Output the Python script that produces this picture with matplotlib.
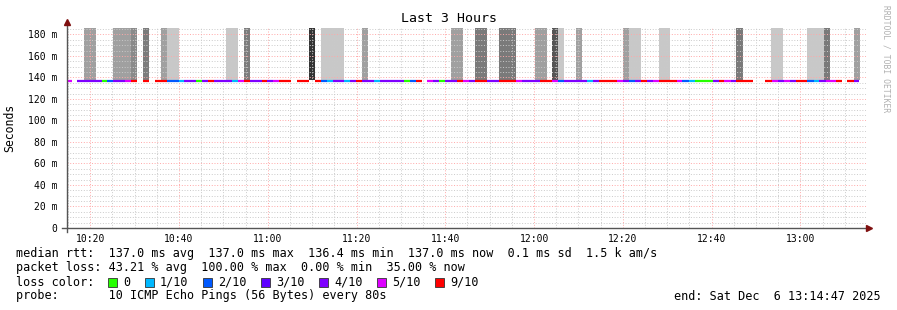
"""
Smokeping style latency graph (last 3 hours): median rtt coloured by loss,
smoke bars in grey, rrdtool-like legend block underneath.
"""

import matplotlib
matplotlib.use("Agg")
import matplotlib.pyplot as plt
import matplotlib.ticker as ticker
from matplotlib.patches import Rectangle

MONO = "DejaVu Sans Mono"

# time axis: minutes after 10:00
T_START = 14.78          # 10:14:47
T_END = 194.78           # 13:14:47

# median rtt segments (edges in minutes, loss = lost pings of 10, None = no data)
edges = [
    14.8, 15.9, 17.1, 22.6, 23.7, 25.1, 27.9, 29.2, 30.6, 31.9,
    33.3, 34.5, 37.4, 40.0, 41.1, 43.9, 45.1, 46.6, 47.9, 52.0,
    53.3, 54.6, 56.0, 58.7, 59.9, 61.2, 62.6, 65.3, 66.5, 69.3,
    70.7, 72.0, 73.4, 74.7, 77.2, 78.6, 79.9, 81.3, 84.0, 85.3,
    90.7, 92.1, 93.4, 94.8, 95.8, 97.2, 98.5, 99.9, 102.6, 104.0,
    105.3, 106.7, 109.4, 112.1, 116.0, 117.3, 121.4, 124.1, 125.4, 126.8,
    131.9, 133.2, 134.6, 138.7, 140.1, 141.4, 142.8, 144.1, 145.5, 146.8,
    148.2, 152.1, 153.4, 154.8, 156.2, 160.2, 161.6, 162.9, 164.3, 165.6,
    169.4, 172.1, 173.6, 174.9, 176.2, 177.6, 178.9, 181.6, 183.0, 184.3,
    185.7, 188.1, 189.4, 190.6, 192.0, 193.3,
]
loss = [
    5, None, 4, 0, 2, 4, 5, 9, None, 9,
    None, 9, 2, 1, 4, 0, 4, 9, 4, 1,
    5, 9, 4, 9, 4, 5, 9, None, 9, None,
    9, 2, 1, 4, 1, 4, 9, 4, 1, 4,
    0, 2, 9, None, 5, 4, 0, 4, 9, 5,
    4, 9, 4, 9, 5, 4, 9, 5, 2, 4,
    1, 4, 9, 5, 4, 2, 4, 9, 4, 5,
    9, 5, 2, 1, 0, 4, 9, 5, 4, 9,
    None, 9, 5, 4, 5, 4, 9, 2, 1, 4,
    5, 9, None, 9, 4,
]
median_ms = 137.0

# smoke bars (start, end in minutes, grey level)
smoke_t0 = [18.6, 25.2, 29.2, 31.9, 36.0, 37.3, 50.6, 54.7, 69.3, 72.0,
            81.3, 101.3, 106.7, 112.1, 120.2, 124.1, 125.4, 129.5, 140.1, 141.4,
            148.2, 165.6, 173.4, 181.5, 185.4, 192.1]
smoke_t1 = [21.3, 29.2, 30.6, 33.3, 37.3, 40.0, 53.3, 56.0, 70.7, 77.2,
            82.6, 104.0, 109.4, 116.0, 123.0, 125.4, 126.8, 130.8, 141.4, 144.1,
            150.7, 167.0, 176.1, 185.4, 186.7, 193.5]
smoke_shade = ["#a0a0a0", "#a0a0a0", "#8a8a8a", "#7c7c7c", "#a0a0a0", "#c8c8c8",
               "#c8c8c8", "#7c7c7c", "#333333", "#c8c8c8", "#a0a0a0", "#a0a0a0",
               "#7a7a7a", "#7a7a7a", "#a0a0a0", "#555555", "#c8c8c8", "#a0a0a0",
               "#a0a0a0", "#c8c8c8", "#c8c8c8", "#7a7a7a", "#c8c8c8", "#c8c8c8",
               "#7a7a7a", "#a0a0a0"]
smoke_bottom = 137.6
smoke_top = 186.0

LOSS_COLORS = {0: "#26ff00", 1: "#00b8ff", 2: "#0059ff", 3: "#5e00ff",
               4: "#7e00ff", 5: "#dd00ff", 9: "#ff0000"}
legend_keys = [0, 1, 2, 3, 4, 5, 9]
legend_labels = ["0", "1/10", "2/10", "3/10", "4/10", "5/10", "9/10"]

stats_line1 = ("median rtt:  137.0 ms avg  137.0 ms max  136.4 ms min  "
               "137.0 ms now  0.1 ms sd  1.5 k am/s")
stats_line2 = "packet loss: 43.21 % avg  100.00 % max  0.00 % min  35.00 % now"
probe_line = "probe:       10 ICMP Echo Pings (56 Bytes) every 80s"
end_line = "end: Sat Dec  6 13:14:47 2025"

W, H = 897, 310
fig = plt.figure(figsize=(W / 100, H / 100), dpi=100)
ax = fig.add_axes([67 / W, 1 - 228 / H, 799 / W, 200 / H])

# smoke
for t0, t1, c in zip(smoke_t0, smoke_t1, smoke_shade):
    ax.bar(t0, smoke_top - smoke_bottom, width=t1 - t0, bottom=smoke_bottom,
           align="edge", color=c, linewidth=0, zorder=1)

# median line coloured by loss
for t0, t1, l in zip(edges[:-1], edges[1:], loss):
    if l is None:
        continue
    ax.hlines(median_ms, t0, t1, colors=LOSS_COLORS[l], linewidth=1.6,
              zorder=4, capstyle="butt")

ax.set_xlim(T_START, T_END)
ax.set_ylim(0, smoke_top)

ax.xaxis.set_major_locator(ticker.MultipleLocator(20))
ax.xaxis.set_minor_locator(ticker.MultipleLocator(5))
ax.yaxis.set_major_locator(ticker.MultipleLocator(20))
ax.yaxis.set_minor_locator(ticker.MultipleLocator(5))
ax.xaxis.set_major_formatter(ticker.FuncFormatter(
    lambda v, _: f"{10 + int(round(v)) // 60}:{int(round(v)) % 60:02d}"))
ax.yaxis.set_major_formatter(ticker.FuncFormatter(
    lambda v, _: "0" if v == 0 else f"{int(round(v))} m"))

ax.set_axisbelow(False)
ax.grid(which="minor", color="#cacaca", linestyle=(0, (1, 1.8)), linewidth=0.7)
ax.grid(which="major", color="#ffa8a8", linestyle=(0, (1, 1.8)), linewidth=0.7)
for gl in ax.get_xgridlines() + ax.get_ygridlines():
    gl.set_zorder(3)

ax.tick_params(which="both", length=0)
ax.tick_params(axis="x", pad=4, labelsize=7)
ax.tick_params(axis="y", pad=7, labelsize=7)
for lab in ax.get_xticklabels() + ax.get_yticklabels():
    lab.set_family(MONO)
for s in ax.spines.values():
    s.set_visible(False)

# axis lines with arrow heads
ax.plot([0, 0], [-0.02, 1.03], color="#555555", lw=1.0,
        transform=ax.transAxes, clip_on=False, zorder=5)
ax.plot([-0.006, 1.004], [0, 0], color="#555555", lw=1.0,
        transform=ax.transAxes, clip_on=False, zorder=5)
ax.plot([0], [1.03], marker="^", ms=4, color="#7f1010",
        transform=ax.transAxes, clip_on=False, zorder=6)
ax.plot([1.004], [0], marker=">", ms=4, color="#7f1010",
        transform=ax.transAxes, clip_on=False, zorder=6)

ax.set_ylabel("Seconds", family=MONO, fontsize=8.3)
ax.yaxis.set_label_coords(-0.064, 0.5)

fig.text(0.5, 1 - 19 / H, "Last 3 Hours", family=MONO, fontsize=9.5,
         ha="center", va="center")
fig.text(886 / W, 1 - 5 / H, "RRDTOOL / TOBI OETIKER", family=MONO,
         fontsize=5.8, color="#b0b0b0", rotation=270, ha="center", va="top")

# legend block
fs = 8.5
fig.text(16 / W, 1 - 254 / H, stats_line1, family=MONO, fontsize=fs, va="center")
fig.text(16 / W, 1 - 268 / H, stats_line2, family=MONO, fontsize=fs, va="center")
fig.text(16 / W, 1 - 282 / H, "loss color:", family=MONO, fontsize=fs, va="center")
box_x = [108, 145, 203, 261, 319, 377, 435]
for bx, k, lab in zip(box_x, legend_keys, legend_labels):
    fig.add_artist(Rectangle((bx / W, 1 - 287 / H), 9 / W, 9 / H,
                             transform=fig.transFigure, facecolor=LOSS_COLORS[k],
                             edgecolor="#333333", linewidth=0.6))
    fig.text((bx + 15) / W, 1 - 282 / H, lab, family=MONO, fontsize=fs, va="center")
fig.text(16 / W, 1 - 296 / H, probe_line, family=MONO, fontsize=fs, va="center")
fig.text(881 / W, 1 - 296 / H, end_line, family=MONO, fontsize=fs,
         va="center", ha="right")

fig.savefig("out.png", dpi=100)
